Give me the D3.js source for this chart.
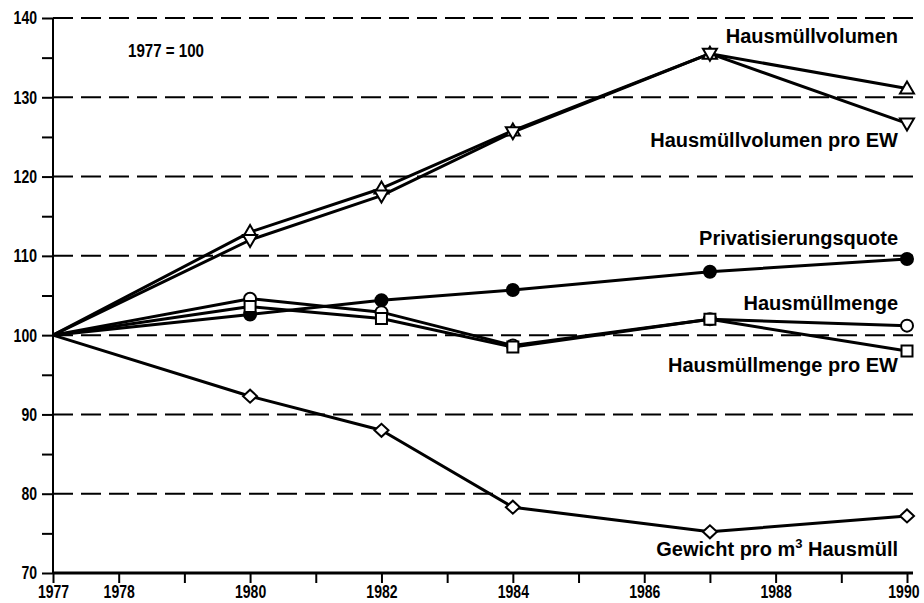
<!DOCTYPE html>
<html>
<head>
<meta charset="utf-8">
<script src="https://cdn.jsdelivr.net/npm/d3@7"></script>
<style>
  body { margin: 0; background: #fff; }
  svg { display: block; }
  .num { font-family: "Liberation Sans", Arial, sans-serif; font-weight: bold; font-size: 18.5px; }
  .lab { font-family: "Liberation Sans", Arial, sans-serif; font-weight: bold; font-size: 20px; }
</style>
</head>
<body>
<svg width="924" height="603"></svg>
<script>
// data
const years = [1977, 1980, 1982, 1984, 1987, 1990];
const volumen = [100, 113.0, 118.5, 125.8, 135.5, 131.1];
const volumenEW = [100, 112.0, 117.6, 125.6, 135.5, 126.7];
const privat = [100, 102.6, 104.4, 105.7, 108.0, 109.6];
const menge = [100, 104.6, 102.9, 98.7, 102.0, 101.2];
const mengeEW = [100, 103.6, 102.1, 98.5, 102.0, 98.0];
const gewicht = [100, 92.3, 88.0, 78.3, 75.2, 77.2];

const yTicks = [70, 80, 90, 100, 110, 120, 130, 140];
const xTickLabels = [1977, 1978, 1980, 1982, 1984, 1986, 1988, 1990];

const series = [
  {name: "Hausmüllvolumen", values: volumen, marker: "up", labelY: 43},
  {name: "Hausmüllvolumen pro EW", values: volumenEW, marker: "down", labelY: 147},
  {name: "Privatisierungsquote", values: privat, marker: "dot", labelY: 245},
  {name: "Hausmüllmenge", values: menge, marker: "circle", labelY: 310},
  {name: "Hausmüllmenge pro EW", values: mengeEW, marker: "square", labelY: 372},
  {name: "Gewicht pro m", values: gewicht, marker: "diamond", labelY: 556}
];

const svg = d3.select("svg");

const xScale = d3.scaleLinear().domain([1977, 1990]).range([53, 907]);
const yScale = d3.scaleLinear().domain([70, 140]).range([573, 18]);

// condensed look for the numbers
function narrow(sel, w) {
  sel.each(function() {
    const s = d3.select(this).text();
    if (s) d3.select(this).attr("textLength", s.length * w).attr("lengthAdjust", "spacingAndGlyphs");
  });
}

// dashed grid
svg.append("g")
  .selectAll("line")
  .data(yTicks.filter(d => d > 70))
  .enter().append("line")
    .attr("x1", xScale(1977)).attr("x2", 913)
    .attr("y1", d => yScale(d)).attr("y2", d => yScale(d))
    .attr("stroke", "#000").attr("stroke-width", 2)
    .attr("stroke-dasharray", "20 8");

// y axis
const yAxis = svg.append("g")
  .attr("transform", `translate(${xScale(1977)},0)`)
  .call(d3.axisLeft(yScale).tickValues(d3.range(70, 141, 5)).tickSize(11).tickPadding(5)
    .tickFormat(d => d % 10 === 0 ? d : ""));
yAxis.select(".domain").attr("stroke-width", 2).attr("d", `M0,${yScale(140)}V${yScale(70)}`);
yAxis.selectAll(".tick line").attr("stroke-width", 2);
yAxis.selectAll(".tick text").attr("class", "num").attr("fill", "#000").call(narrow, 7.8);

// x axis
const xAxis = svg.append("g")
  .attr("transform", `translate(0,${yScale(70)})`)
  .call(d3.axisBottom(xScale).tickValues(d3.range(1977, 1991)).tickSize(10).tickPadding(2)
    .tickFormat(d => xTickLabels.includes(d) ? d : ""));
xAxis.select(".domain").attr("stroke-width", 3).attr("d", `M${xScale(1977)},0H913`);
xAxis.selectAll(".tick line").attr("stroke-width", 2);
xAxis.selectAll(".tick text").attr("class", "num").attr("fill", "#000").call(narrow, 7.8)
  .filter(d => d === 1990).attr("text-anchor", "end").attr("x", 12);

// lines
const line = d3.line()
  .x((d, i) => xScale(years[i]))
  .y(d => yScale(d));

svg.append("g")
  .selectAll("path")
  .data(series)
  .enter().append("path")
    .attr("d", d => line(d.values))
    .attr("fill", "none")
    .attr("stroke", "#000")
    .attr("stroke-width", 3)
    .attr("stroke-linejoin", "round");

// markers
function markerPath(type) {
  if (type === "up") return "M0,-7L7,5L-7,5Z";
  if (type === "down") return "M0,7L7,-5L-7,-5Z";
  if (type === "square") return "M-5.5,-5.5H5.5V5.5H-5.5Z";
  if (type === "diamond") return "M-7,0L0,-6.5L7,0L0,6.5Z";
  return d3.symbol(d3.symbolCircle, 113)();
}

series.forEach(s => {
  svg.append("g")
    .selectAll("path")
    .data(s.values.slice(1))
    .enter().append("path")
      .attr("transform", (d, i) => `translate(${xScale(years[i + 1])},${yScale(d)})`)
      .attr("d", markerPath(s.marker))
      .attr("fill", s.marker === "dot" ? "#000" : "#fff")
      .attr("stroke", "#000")
      .attr("stroke-width", 2);
});

// series labels
series.forEach(s => {
  const t = svg.append("text")
    .attr("class", "lab")
    .attr("x", 898)
    .attr("y", s.labelY)
    .attr("text-anchor", "end")
    .text(s.name);
  if (s.marker === "diamond") {
    t.append("tspan").attr("font-size", 13).attr("dy", -8).text("3");
    t.append("tspan").attr("dy", 8).text(" Hausmüll");
  }
});

svg.append("text")
  .attr("class", "num")
  .attr("x", 128)
  .attr("y", 57)
  .attr("textLength", 76)
  .attr("lengthAdjust", "spacingAndGlyphs")
  .text("1977 = 100");
</script>
</body>
</html>
